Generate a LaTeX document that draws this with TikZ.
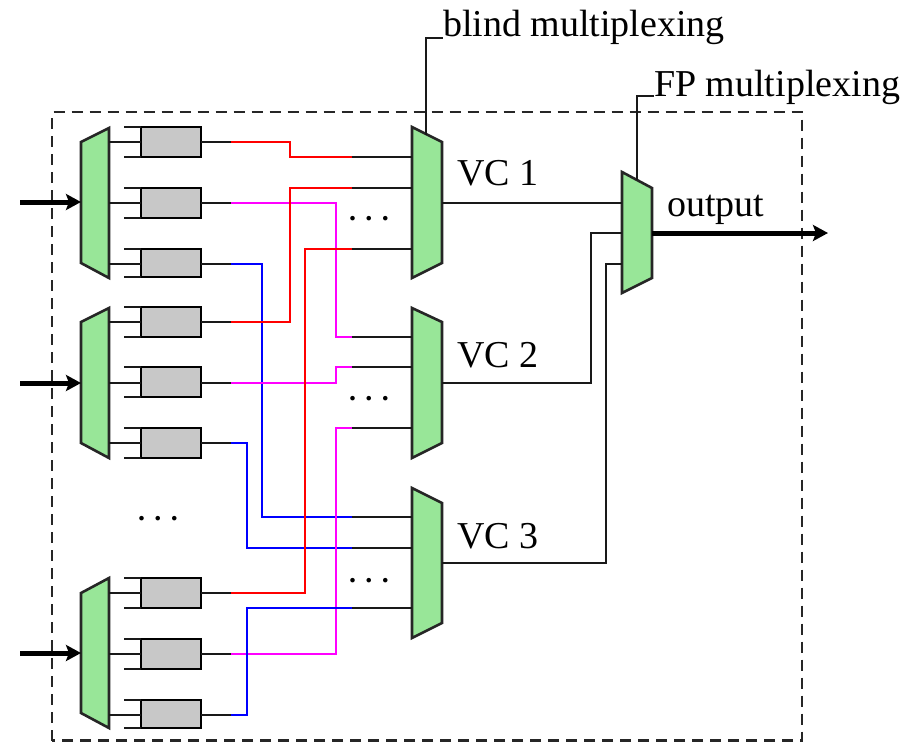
\documentclass[tikz,border=0pt]{standalone}
\usepackage{fontspec}
\setmainfont{Liberation Serif}
\usetikzlibrary{arrows.meta}
\definecolor{muxg}{HTML}{98E698}
\definecolor{boxg}{HTML}{C8C8C8}
\definecolor{wiremag}{HTML}{FF00FF}
\begin{document}
\begin{tikzpicture}[x=1pt,y=-1pt,
  wire/.style={line width=2.5pt,black!90},
  redw/.style={line width=2.5pt,red,line join=miter},
  magw/.style={line width=2.5pt,wiremag,line join=miter},
  bluw/.style={line width=2.5pt,blue,line join=miter},
  thick arrow/.style={line width=5pt,-{Stealth[length=15pt,width=16pt,inset=3pt]}},
  mux/.style={draw=black!85,line width=2.6pt,fill=muxg,line join=miter},
  buf/.style={draw=black,line width=2.5pt,fill=boxg,minimum width=60pt,inner sep=0pt,outer sep=0pt},
  bufa/.style={buf,minimum height=30pt},
  bufb/.style={buf,minimum height=28pt},
  lab/.style={inner sep=0pt,outer sep=0pt,anchor=base west,font=\fontsize{38}{38}\selectfont},
  dotsl/.style={inner sep=0pt,anchor=base,font=\fontsize{28}{28}\selectfont\bfseries},
  frame/.style={draw=black!85,line width=2.5pt,dash pattern=on 11pt off 7pt}]
\useasboundingbox (0,0) rectangle (917,742);
\draw[frame] (52,740.5) rectangle (802,112);

% input muxes
\draw[mux] (81,142) -- (109,128) -- (109,278) -- (81,263) -- cycle;
\draw[mux] (81,322) -- (109,308) -- (109,458) -- (81,443) -- cycle;
\draw[mux] (81,593) -- (109,578) -- (109,728) -- (81,713) -- cycle;
% VC muxes
\draw[mux] (412,127) -- (442,142) -- (442,263) -- (412,278) -- cycle;
\draw[mux] (412,308) -- (442,322) -- (442,443) -- (412,458) -- cycle;
\draw[mux] (412,488) -- (442,503) -- (442,623) -- (412,638) -- cycle;
% FP mux
\draw[mux] (622,172) -- (652,188) -- (652,278) -- (622,293) -- cycle;

% buffers
\node[bufa] (b11) at (171,142) {};
\node[bufa] (b12) at (171,203) {};
\node[bufb] (b13) at (171,263) {};
\node[bufa] (b21) at (171,322) {};
\node[bufa] (b22) at (171,382) {};
\node[bufa] (b23) at (171,443) {};
\node[bufa] (b31) at (171,593) {};
\node[bufa] (b32) at (171,654) {};
\node[bufb] (b33) at (171,714) {};

% stubs and wires to buffers
\foreach \b/\y in {b11/142,b12/203,b13/264,b21/322,b22/383,b23/443,b31/593,b32/654,b33/715}{
  \coordinate (\b in) at (109,\y);
  \coordinate (\b out) at (231,\y);
  \coordinate (\b st) at (\b.west |- 0,\y);
  \draw[wire] (\b in) -- (\b st);
  \draw[wire] (\b.north west) -- ++(-17,0);
  \draw[wire] (\b.south west) -- ++(-17,0);
  \draw[wire] (\b st -| \b.east) -- (\b out);
}

% ports at VC muxes
\foreach \p/\y in {a1/157,a2/188,a3/249,c1/337,c2/367,c3/428,e1/517,e2/548,e3/608}{
  \coordinate (\p) at (352,\y);
  \coordinate (\p m) at (412,\y);
  \draw[wire] (\p) -- (\p m);
}

% coloured wires
\draw[redw] (b11out) -- (290,142) -- (290,157) -- (a1);
\draw[magw] (b12out) -- (336,203) -- (336,337) -- (c1);
\draw[bluw] (b13out) -- (262,264) -- (262,517) -- (e1);
\draw[redw] (b21out) -- (290,322) -- (290,188) -- (a2);
\draw[magw] (b22out) -- (336,383) -- (336,367) -- (c2);
\draw[bluw] (b23out) -- (247,443) -- (247,548) -- (e2);
\draw[redw] (b31out) -- (305,593) -- (305,249) -- (a3);
\draw[magw] (b32out) -- (336,654) -- (336,428) -- (c3);
\draw[bluw] (b33out) -- (247,715) -- (247,608) -- (e3);

% VC outputs to FP mux
\coordinate (v1) at (442,203);
\coordinate (v2) at (442,383);
\coordinate (v3) at (442,563);
\coordinate (f1) at (622,203);
\coordinate (f2) at (622,233);
\coordinate (f3) at (622,264);
\draw[wire] (v1) -- (f1);
\draw[wire] (v2) -- (591,383) -- (591,233) -- (f2);
\draw[wire] (v3) -- (606,563) -- (606,264) -- (f3);

% input and output arrows
\coordinate (i1s) at (20,202); \coordinate (i1e) at (81,202);
\coordinate (i2s) at (20,383); \coordinate (i2e) at (81,383);
\coordinate (i3s) at (20,653); \coordinate (i3e) at (81,653);
\coordinate (os) at (652,233); \coordinate (oe) at (828,233);
\draw[thick arrow] (i1s) -- (i1e);
\draw[thick arrow] (i2s) -- (i2e);
\draw[thick arrow] (i3s) -- (i3e);
\draw[thick arrow] (os) -- (oe);

% labels
\node[lab] (blind) at (443,36) {blind multiplexing};
\node[lab] (fp) at (654,96) {FP multiplexing};
\node[lab] (vc1) at (457,185) {VC 1};
\node[lab] (vc2) at (457,367) {VC 2};
\node[lab] (vc3) at (457,548) {VC 3};
\node[lab] (out) at (667,216) {output};
\coordinate (mb) at (426,135);
\coordinate (mf) at (637,180);
\coordinate (mbc) at (426,38);
\coordinate (mfc) at (637,96);
\draw[wire] (mb) -- (mbc) -- (mbc -| blind.west);
\draw[wire] (mf) -- (mfc) -- (mfc -| fp.west);

% dots
\node[dotsl] (d1) at (369,220) {. . .};
\node[dotsl] (d2) at (369,400) {. . .};
\node[dotsl] (d3) at (369,582) {. . .};
\node[dotsl] (d4) at (158,520) {. . .};
\end{tikzpicture}
\end{document}
